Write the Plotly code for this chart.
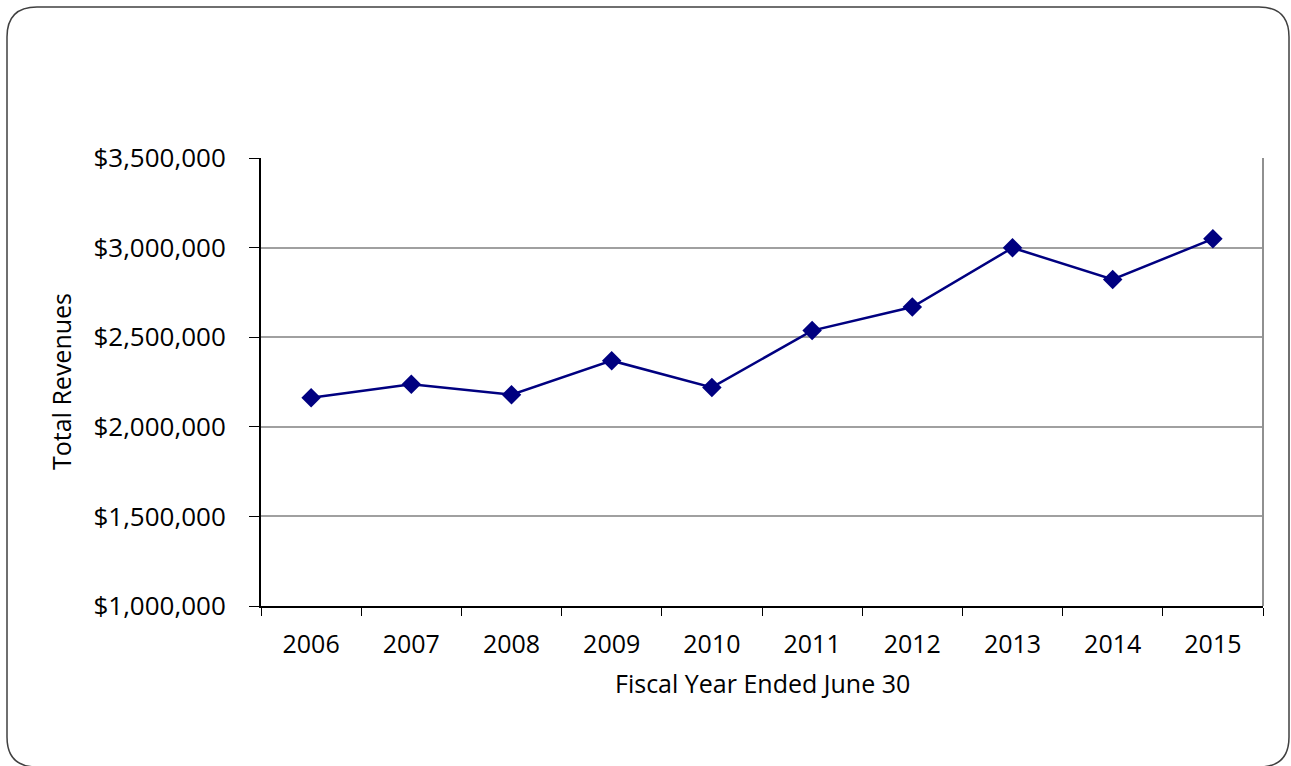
import plotly.graph_objects as go

# Total revenues by fiscal year (year ended June 30)
years = ["2006", "2007", "2008", "2009", "2010", "2011", "2012", "2013", "2014", "2015"]
revenues = [2162000, 2237000, 2179000, 2369000, 2220000, 2537000, 2668000, 2999000, 2822000, 3049000]

y_ticks = [1000000, 1500000, 2000000, 2500000, 3000000, 3500000]
y_tick_labels = ["$1,000,000", "$1,500,000", "$2,000,000", "$2,500,000", "$3,000,000", "$3,500,000"]

x_title = "Fiscal Year Ended June 30"
y_title = "Total Revenues"

W, H = 1291, 766
L, R, T, B = 261, 28, 158, 160
PW, PH = W - L - R, H - T - B

FONT = "Open Sans"
FS = 25


def px_x(p):
    return (p - L) / PW


def px_y(p):
    return (H - B - p) / PH


fig = go.Figure()

fig.add_trace(go.Scatter(
    x=years,
    y=revenues,
    mode="lines+markers",
    line=dict(color="#000080", width=2.5),
    marker=dict(symbol="diamond", size=15, color="#000080"),
    showlegend=False,
    hoverinfo="x+y",
))

# Rounded frame around the whole chart
x0, y0, x1, y1, r = 7, 7, 1289, 767, 30
path = (
    f"M {px_x(x0 + r)},{px_y(y0)} "
    f"L {px_x(x1 - r)},{px_y(y0)} "
    f"Q {px_x(x1)},{px_y(y0)} {px_x(x1)},{px_y(y0 + r)} "
    f"L {px_x(x1)},{px_y(y1 - r)} "
    f"Q {px_x(x1)},{px_y(y1)} {px_x(x1 - r)},{px_y(y1)} "
    f"L {px_x(x0 + r)},{px_y(y1)} "
    f"Q {px_x(x0)},{px_y(y1)} {px_x(x0)},{px_y(y1 - r)} "
    f"L {px_x(x0)},{px_y(y0 + r)} "
    f"Q {px_x(x0)},{px_y(y0)} {px_x(x0 + r)},{px_y(y0)} Z"
)
fig.add_shape(type="path", path=path, xref="paper", yref="paper",
              line=dict(color="#404040", width=1.5), layer="below")

# Right border of the plot area
fig.add_shape(type="line", xref="paper", yref="paper", x0=1, x1=1, y0=0, y1=1,
              line=dict(color="#909090", width=2), layer="above")

# Axis titles
fig.add_annotation(text=x_title, xref="paper", yref="paper",
                   x=px_x(762), y=px_y(683), xanchor="center", yanchor="middle",
                   showarrow=False, font=dict(family=FONT, size=FS, color="black"))
fig.add_annotation(text=y_title, xref="paper", yref="paper", textangle=-90,
                   x=px_x(61), y=px_y(382), xanchor="center", yanchor="middle",
                   showarrow=False, font=dict(family=FONT, size=FS, color="black"))

fig.update_layout(
    width=W, height=H,
    margin=dict(l=L, r=R, t=T, b=B, pad=0),
    paper_bgcolor="white",
    plot_bgcolor="white",
    font=dict(family=FONT, size=FS, color="black"),
    xaxis=dict(
        type="category",
        range=[-0.5, 9.5],
        showline=True, linecolor="black", linewidth=2,
        ticks="outside", tickson="boundaries", ticklen=8, tickcolor="black", tickwidth=1,
        showgrid=False,
        tickfont=dict(family=FONT, size=FS),
        ticklabelstandoff=15,
        fixedrange=True,
    ),
    yaxis=dict(
        range=[1000000, 3500000],
        tickvals=y_ticks, ticktext=y_tick_labels,
        showline=True, linecolor="black", linewidth=2,
        ticks="outside", ticklen=10, tickcolor="black", tickwidth=1,
        showgrid=True, gridcolor="#a0a0a0", gridwidth=1.5,
        zeroline=False,
        tickfont=dict(family=FONT, size=26),
        ticklabelstandoff=18,
        fixedrange=True,
    ),
)

fig.write_html("out.html")
